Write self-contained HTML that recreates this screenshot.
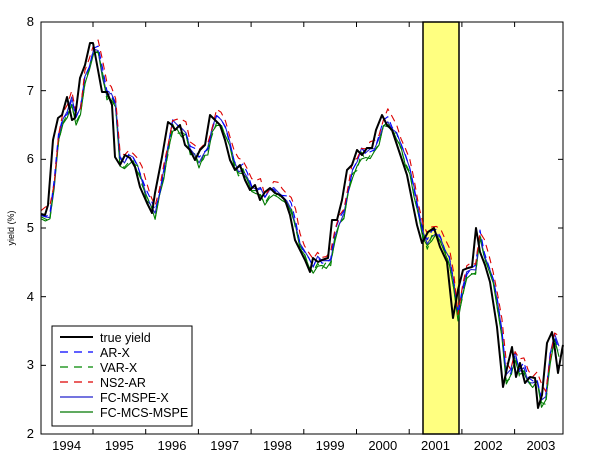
<!DOCTYPE html>
<html><head><meta charset="utf-8"><style>
html,body{margin:0;padding:0;background:#fff;width:600px;height:463px;overflow:hidden}
svg{display:block;font-family:"Liberation Sans",Arial,sans-serif}
</style></head><body>
<svg id="s" width="600" height="463" viewBox="0 0 600 463">
<rect x="0" y="0" width="600" height="463" fill="#fff"/>
<rect x="423" y="22" width="36" height="412" fill="#ffff80" stroke="#000" stroke-width="1.5"/>
<g id="series" fill="none" stroke-linejoin="round"></g>
<rect x="41" y="22" width="522" height="412" fill="none" stroke="#000" stroke-width="1"/>
<g id="ticks" stroke="#000" stroke-width="1"></g>
<g font-size="13" fill="#000" text-anchor="end">
<text x="34" y="26">8</text><text x="34" y="95">7</text><text x="34" y="163">6</text>
<text x="34" y="232">5</text><text x="34" y="301">4</text><text x="34" y="369">3</text><text x="34" y="438">2</text>
</g>
<g font-size="13" fill="#000" text-anchor="middle" id="xl"></g>
<text x="14" y="228" font-size="9" text-anchor="middle" transform="rotate(-90 14 228)">yield (%)</text>
<rect x="52" y="326" width="140" height="100" fill="#fff" stroke="#000" stroke-width="1"/>
<g stroke-width="1.3">
<line x1="60" y1="337" x2="93" y2="337" stroke="#000" stroke-width="2"/>
<line x1="60" y1="352" x2="93" y2="352" stroke="#00f" stroke-dasharray="8,6"/>
<line x1="60" y1="367" x2="93" y2="367" stroke="#080" stroke-dasharray="8,6"/>
<line x1="60" y1="382" x2="93" y2="382" stroke="#d00" stroke-dasharray="8,6"/>
<line x1="60" y1="397" x2="93" y2="397" stroke="#22c"/>
<line x1="60" y1="412" x2="93" y2="412" stroke="#070"/>
</g>
<g font-size="12.5" fill="#000">
<text x="100" y="342">true yield</text><text x="100" y="357">AR-X</text><text x="100" y="372">VAR-X</text>
<text x="100" y="387">NS2-AR</text><text x="100" y="402">FC-MSPE-X</text><text x="100" y="417">FC-MCS-MSPE</text>
</g>
</svg>
<script>
var pts=[[41,214],[45,215],[48,205],[53,140],[58,118],[62,115],[67,97],[72,120],[75,118],[80,78],[85,65],[90,43],[93,43],[98,70],[102,92],[107,92],[112,105],[115,157],[120,165],[125,155],[130,158],[135,167],[140,187],[147,203],[152,213],[155,193],[162,157],[168,122],[172,125],[175,130],[180,125],[185,145],[190,150],[195,160],[200,150],[205,145],[210,115],[215,120],[220,125],[225,140],[230,160],[235,170],[240,165],[245,180],[250,190],[255,185],[260,200],[265,192],[270,188],[275,193],[280,195],[285,200],[290,215],[295,240],[300,250],[305,260],[310,272],[313,258],[318,262],[322,260],[328,258],[332,220],[337,220],[342,200],[347,170],[352,165],[357,150],[362,155],[367,148],[372,148],[376,130],[382,115],[387,125],[392,130],[397,145],[402,160],[407,175],[412,200],[417,225],[422,243],[428,232],[434,228],[440,247],[447,262],[453,318],[458,290],[463,270],[468,268],[472,267],[476,228],[480,252],[485,265],[490,282],[497,327],[503,387],[507,368],[512,347],[516,377],[520,363],[525,383],[530,377],[535,378],[538,408],[542,395],[547,343],[552,332],[555,350],[558,373],[562,350],[563,345]];
function interp(x){for(var i=1;i<pts.length;i++){if(x<=pts[i][0]){var a=pts[i-1],b=pts[i];return a[1]+(b[1]-a[1])*(x-a[0])/(b[0]-a[0]);}}return pts[pts.length-1][1];}
function path(dx,dy,amp,seed){var d="";for(var x=41;x<=563;x+=4.39){var xx=Math.max(41,x-dx);var y=interp(xx)+dy+amp*Math.sin(x*seed);d+=(d?"L":"M")+x.toFixed(1)+","+y.toFixed(1);}return d;}
var g=document.getElementById("series"),ns="http://www.w3.org/2000/svg";
function add(d,c,w,dash){var p=document.createElementNS(ns,"path");p.setAttribute("d",d);p.setAttribute("stroke",c);p.setAttribute("stroke-width",w);if(dash)p.setAttribute("stroke-dasharray",dash);g.appendChild(p);}
add(path(4.4,6,3,0.7),"#070",1.1);
add(path(4.4,1,3,1.3),"#22c",1.1);
add(path(4.4,5,3,0.9),"#080",1.1,"7,5");
add(path(4.4,0,2.5,1.7),"#00f",1.1,"7,5");
add(path(5,-6,3,1.1),"#d00",1.1,"7,5");
var d="";pts.forEach(function(p,i){d+=(i?"L":"M")+p[0]+","+p[1];});add(d,"#000",2);
var t=document.getElementById("ticks"),xl=document.getElementById("xl"),h="";
for(var k=1;k<=9;k++){var x=40.3+k*52.7;h+='<line x1="'+x+'" y1="434" x2="'+x+'" y2="429"/><line x1="'+x+'" y1="22" x2="'+x+'" y2="27"/>';}
for(var v=1;v<6;v++){var y=22+v*68.67;h+='<line x1="41" y1="'+y+'" x2="46" y2="'+y+'"/><line x1="563" y1="'+y+'" x2="558" y2="'+y+'"/>';}
t.innerHTML=h;var s="";
for(var k=0;k<10;k++){s+='<text x="'+(40.3+k*52.7+26.3)+'" y="450">'+(1994+k)+'</text>';}
xl.innerHTML=s;
</script>
</body></html>
